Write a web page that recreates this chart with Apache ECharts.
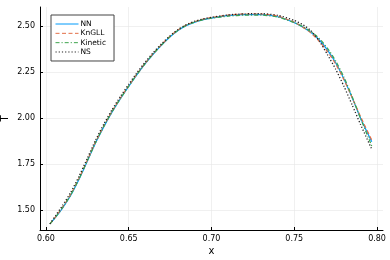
<!DOCTYPE html>
<html><head><meta charset="utf-8">
<script src="https://cdn.jsdelivr.net/npm/echarts@6/dist/echarts.min.js"></script>
<style>html,body{margin:0;padding:0;background:#fff}#c{width:390px;height:260px}</style>
</head><body><div id="c"></div>
<script>
const xs = [0.6024,0.606,0.610,0.615,0.620,0.625,0.630,0.635,0.640,0.645,0.650,0.655,0.660,0.665,0.670,0.675,0.680,0.685,0.690,0.695,0.700,0.710,0.720,0.730,0.740,0.750,0.755,0.760,0.765,0.770,0.775,0.780,0.785,0.790,0.7968];
const nn = [1.424,1.462,1.510,1.580,1.667,1.765,1.865,1.953,2.033,2.105,2.172,2.236,2.295,2.349,2.397,2.441,2.477,2.503,2.521,2.534,2.543,2.556,2.562,2.562,2.550,2.518,2.495,2.465,2.425,2.370,2.300,2.212,2.110,2.000,1.871];
const kngll = [1.424,1.465,1.514,1.585,1.672,1.770,1.870,1.957,2.037,2.108,2.175,2.239,2.298,2.352,2.400,2.444,2.480,2.506,2.524,2.537,2.546,2.559,2.565,2.565,2.554,2.520,2.495,2.462,2.418,2.362,2.293,2.208,2.110,2.008,1.880];
const kinetic = [1.424,1.463,1.512,1.582,1.669,1.767,1.867,1.955,2.035,2.106,2.173,2.237,2.296,2.350,2.398,2.442,2.478,2.504,2.522,2.534,2.542,2.553,2.559,2.559,2.548,2.518,2.497,2.470,2.433,2.380,2.310,2.222,2.115,1.998,1.848];
const ns = [1.424,1.472,1.524,1.596,1.683,1.781,1.880,1.967,2.046,2.117,2.183,2.246,2.304,2.357,2.404,2.447,2.482,2.508,2.526,2.538,2.547,2.560,2.566,2.567,2.558,2.530,2.508,2.475,2.420,2.345,2.265,2.172,2.070,1.965,1.830];
const xTicks = [0.60,0.65,0.70,0.75,0.80];
const yTicks = [1.50,1.75,2.00,2.25,2.50];
const seriesNames = ['NN','KnGLL','Kinetic','NS'];

const pair = (ys) => xs.map((x,i)=>[x, ys[i]]);
const font = 'DejaVu Sans';
const chart = echarts.init(document.getElementById('c'), null, {renderer:'canvas'});
const mk = (name, ys, color, type, w) => ({
  name, type:'line', data: pair(ys), showSymbol:false, symbol:'none',
  smooth:0.2,
  lineStyle:{color, width:w, type}, itemStyle:{color}, z: 2
});
chart.setOption({
  animation:false,
  backgroundColor:'#fff',
  grid:{left:40, right:7, top:7, bottom:30, containLabel:false, outerBoundsMode:'none'},
  xAxis:{
    type:'value', min:0.5964, max:0.8036,
    name:'x', nameLocation:'middle', nameGap:16, nameMoveOverlap:false,
    nameTextStyle:{fontFamily:font, fontSize:10, color:'#000'},
    axisLine:{show:true, onZero:false, lineStyle:{color:'#000', width:1}},
    axisTick:{show:true, inside:true, length:3, customValues:xTicks, lineStyle:{color:'#000'}},
    axisLabel:{customValues:xTicks, fontFamily:font, fontSize:8, color:'#000', margin:5,
      formatter:v=>v.toFixed(2)},
    splitLine:{show:true, lineStyle:{color:'#e6e6e6', width:0.6}}
  },
  yAxis:{
    type:'value', min:1.391, max:2.603,
    name:'T', nameLocation:'middle', nameGap:30, nameRotate:90, nameMoveOverlap:false,
    nameTextStyle:{fontFamily:font, fontSize:10, color:'#000'},
    axisLine:{show:true, onZero:false, lineStyle:{color:'#000', width:1}},
    axisTick:{show:true, inside:true, length:3, customValues:yTicks, lineStyle:{color:'#000'}},
    axisLabel:{customValues:yTicks, fontFamily:font, fontSize:8, color:'#000', margin:5,
      formatter:v=>v.toFixed(2)},
    splitLine:{show:true, lineStyle:{color:'#e6e6e6', width:0.6}}
  },
  legend:{
    data:seriesNames, orient:'vertical', left:51, top:15,
    padding:[5,8,5,4], itemWidth:23, itemHeight:7, itemGap:1.33,
    backgroundColor:'#fff', borderColor:'#444', borderWidth:1, borderRadius:0,
    itemStyle:{opacity:0},
    lineStyle:{width:1},
    textStyle:{fontFamily:font, fontSize:7.5, color:'#000', padding:[0,0,0,-3]}
  },
  series:[
    mk('NN', nn, '#009AFA', 'solid', 1.2),
    mk('KnGLL', kngll, '#E36F47', [4,2.5], 1.2),
    mk('Kinetic', kinetic, '#3EA44E', [4,2,1.2,2], 1.2),
    mk('NS', ns, '#222', [1.2,2], 1.3)
  ]
});
</script></body></html>
